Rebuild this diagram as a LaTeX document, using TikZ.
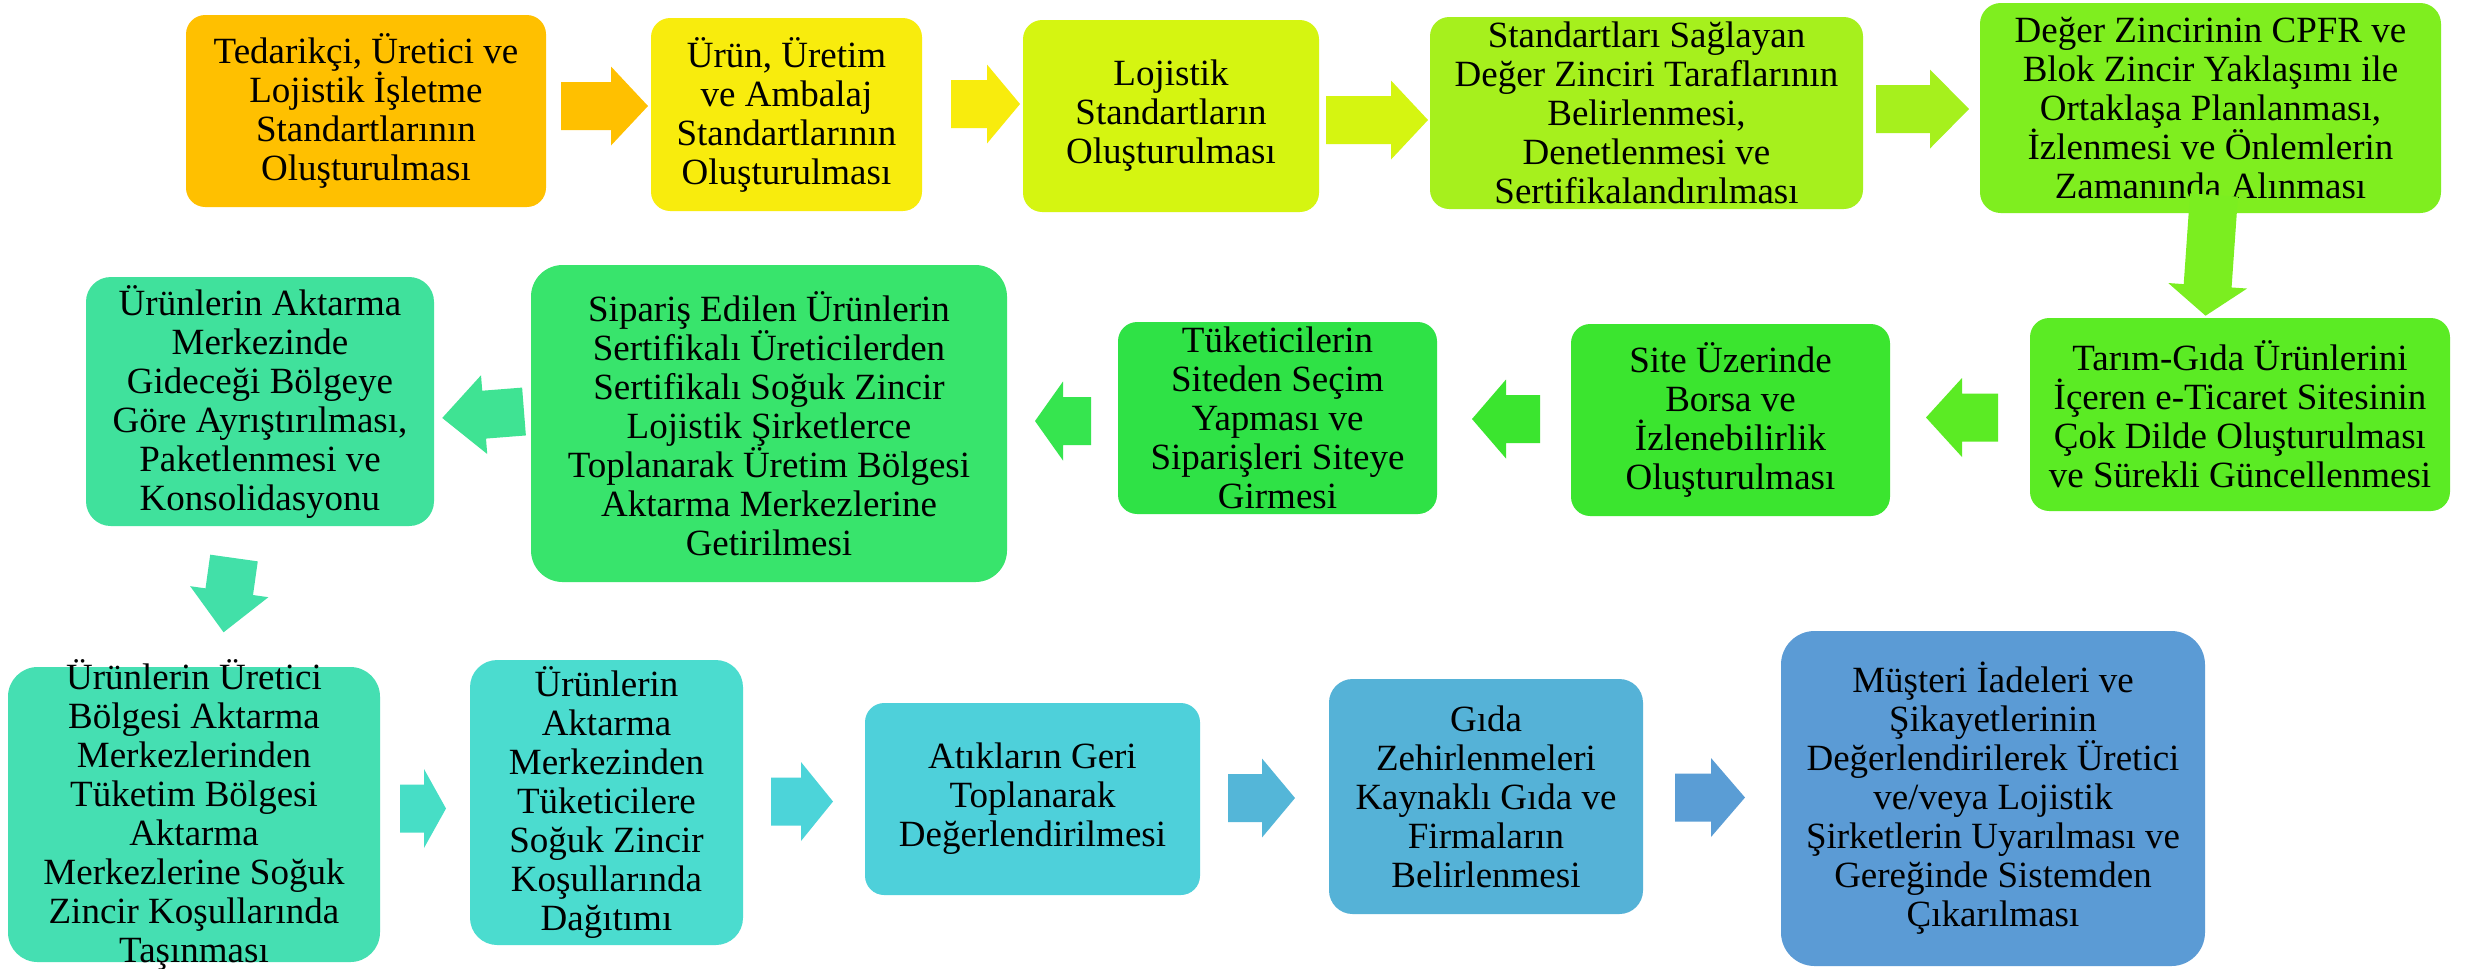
\documentclass[tikz,border=0pt]{standalone}
\usepackage{fontspec}
\setmainfont{Liberation Serif}
\definecolor{cA}{HTML}{FFC000}
\definecolor{cB}{HTML}{F8EC0D}
\definecolor{cC}{HTML}{D5F511}
\definecolor{cD}{HTML}{A6F01D}
\definecolor{cE}{HTML}{7FEE1F}
\definecolor{cF}{HTML}{5BEB24}
\definecolor{cG}{HTML}{3BE52F}
\definecolor{cH}{HTML}{2FE246}
\definecolor{cI}{HTML}{38E46C}
\definecolor{cJ}{HTML}{40E19C}
\definecolor{cK}{HTML}{45DFB2}
\definecolor{cL}{HTML}{4BDCCF}
\definecolor{cM}{HTML}{4ED0DA}
\definecolor{cN}{HTML}{55B2D7}
\definecolor{cO}{HTML}{5B9BD5}
\definecolor{aHI}{HTML}{36E54F}
\definecolor{aIJ}{HTML}{3FE393}
\definecolor{aJK}{HTML}{42E0A8}
\definecolor{aKL}{HTML}{47DEC6}
\definecolor{aLM}{HTML}{4CD4D9}
\definecolor{aMN}{HTML}{54B6D8}
\definecolor{aNO}{HTML}{5A9DD5}
\newcommand\blockarrow[5]{%
  \fill[#1, shift={#2}, rotate=#3]
    (0,-24) -- ({#4-#5},-24) -- ({#4-#5},-39.5) -- (#4,0)
    -- ({#4-#5},39.5) -- ({#4-#5},24) -- (0,24) -- cycle;}
\begin{document}
\begin{tikzpicture}[x=0.25pt,y=-0.25pt,
  box/.style={rounded corners=4.8pt, inner sep=0pt, align=center,
    font=\fontsize{9.25}{9.75}\selectfont, text=black},
  txt/.style={inner sep=0pt, align=center,
    font=\fontsize{9.25}{9.75}\selectfont, text=black}]
\useasboundingbox[fill=white] (0,0) rectangle (2466,968);

% Row 1
\node[box, fill=cA, minimum width=90pt, minimum height=48pt] (A) at (366,111)
  {Tedarikçi, Üretici ve\\Lojistik İşletme\\Standartlarının\\Oluşturulması};
\node[box, fill=cB, minimum width=67.75pt, minimum height=48.25pt] (B) at (786.5,114.5)
  {Ürün, Üretim\\ve Ambalaj\\Standartlarının\\Oluşturulması};
\node[box, fill=cC, minimum width=74pt, minimum height=48pt] (C) at (1171,116)
  {Lojistik\\Standartların\\Oluşturulması};
\node[box, fill=cD, minimum width=108.25pt, minimum height=48pt] (D) at (1646.5,113)
  {Standartları Sağlayan\\Değer Zinciri Taraflarının\\Belirlenmesi,\\Denetlenmesi ve\\Sertifikalandırılması};
\node[box, fill=cE, rounded corners=5.2pt, minimum width=115.25pt, minimum height=52.5pt] (E) at (2210.5,108)
  {Değer Zincirinin CPFR ve\\Blok Zincir Yaklaşımı ile\\Ortaklaşa Planlanması,\\İzlenmesi ve Önlemlerin\\Zamanında Alınması};

% Row 2
\node[box, fill=cF, minimum width=105pt, minimum height=48.25pt] (F) at (2240,414.5)
  {Tarım-Gıda Ürünlerini\\İçeren e-Ticaret Sitesinin\\Çok Dilde Oluşturulması\\ve Sürekli Güncellenmesi};
\node[box, fill=cG, minimum width=79.75pt, minimum height=48pt] (G) at (1730.5,420)
  {Site Üzerinde\\Borsa ve\\İzlenebilirlik\\Oluşturulması};
\node[box, fill=cH, minimum width=79.75pt, minimum height=48pt] (H) at (1277.5,418)
  {Tüketicilerin\\Siteden Seçim\\Yapması ve\\Siparişleri Siteye\\Girmesi};
\node[box, fill=cI, rounded corners=7.9pt, minimum width=119pt, minimum height=79.25pt] (I) at (769,423.5)
  {Sipariş Edilen Ürünlerin\\Sertifikalı Üreticilerden\\Sertifikalı Soğuk Zincir\\Lojistik Şirketlerce\\Toplanarak Üretim Bölgesi\\Aktarma Merkezlerine\\Getirilmesi};
\node[box, fill=cJ, rounded corners=6.2pt, minimum width=87pt, minimum height=62.25pt] (J) at (260,401.5)
  {Ürünlerin Aktarma\\Merkezinde\\Gideceği Bölgeye\\Göre Ayrıştırılması,\\Paketlenmesi ve\\Konsolidasyonu};

% Row 3
\node[box, fill=cK, rounded corners=7.4pt, minimum width=93pt, minimum height=73.75pt] (K) at (194,814.5) {};
\node[txt] (Kt) at (K.center)
  {Ürünlerin Üretici\\Bölgesi Aktarma\\Merkezlerinden\\Tüketim Bölgesi\\Aktarma\\Merkezlerine Soğuk\\Zincir Koşullarında\\Taşınması};
\node[box, fill=cL, rounded corners=6.8pt, minimum width=68.25pt, minimum height=71.25pt] (L) at (606.5,802.5)
  {Ürünlerin\\Aktarma\\Merkezinden\\Tüketicilere\\Soğuk Zincir\\Koşullarında\\Dağıtımı};
\node[box, fill=cM, minimum width=83.75pt, minimum height=48pt] (M) at (1032.5,799)
  {Atıkların Geri\\Toplanarak\\Değerlendirilmesi};
\node[box, fill=cN, rounded corners=5.9pt, minimum width=78.5pt, minimum height=58.75pt] (N) at (1486,796.5)
  {Gıda\\Zehirlenmeleri\\Kaynaklı Gıda ve\\Firmaların\\Belirlenmesi};
\node[box, fill=cO, rounded corners=8.4pt, minimum width=106pt, minimum height=83.75pt] (O) at (1993,798.5)
  {Müşteri İadeleri ve\\Şikayetlerinin\\Değerlendirilerek Üretici\\ve/veya Lojistik\\Şirketlerin Uyarılması ve\\Gereğinde Sistemden\\Çıkarılması};

% Block arrows
\blockarrow{cA}{(561,106)}{0}{87}{37}
\blockarrow{cB}{(951,104)}{0}{69}{33}
\blockarrow{cC}{(1326,120)}{0}{102}{37}
\blockarrow{cD}{(1876,109)}{0}{93}{39}
\blockarrow{cE!90!cF}{(2214,195)}{-94}{121}{30}
\blockarrow{cF}{(1998,417.5)}{180}{72}{36}
\blockarrow{cG}{(1540,419)}{180}{68}{34}
\blockarrow{aHI}{(1091,421)}{180}{56}{28}
\blockarrow{aIJ}{(524,411.5)}{184.5}{82}{42}
\blockarrow{aJK}{(234,558)}{-98}{75}{41}
\blockarrow{aKL}{(400,808.5)}{0}{46}{22}
\blockarrow{aLM}{(771,801.5)}{0}{62}{32}
\blockarrow{aMN}{(1228,798)}{0}{67}{33}
\blockarrow{aNO}{(1675,797.5)}{0}{70}{34}
\end{tikzpicture}
\end{document}
